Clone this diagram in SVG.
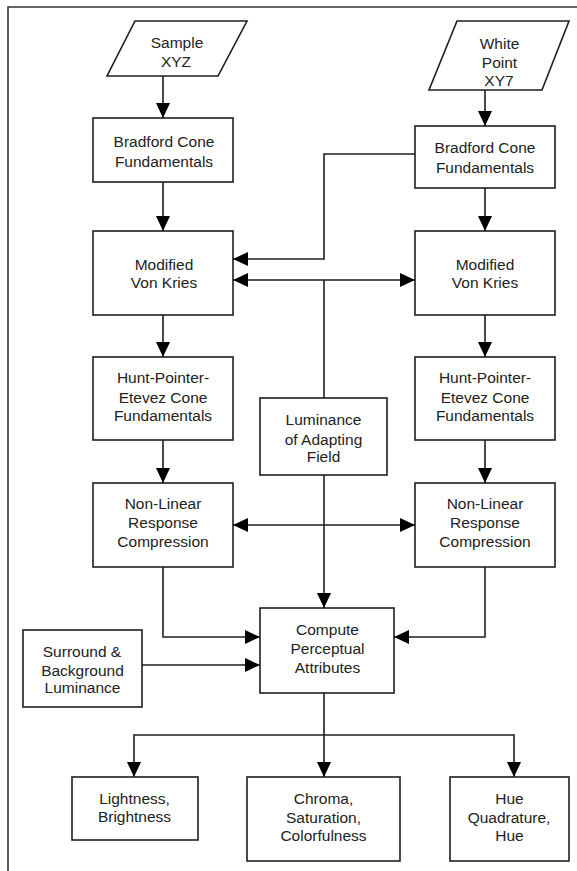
<svg xmlns="http://www.w3.org/2000/svg" width="577" height="871" viewBox="0 0 577 871">
<style>
.box{fill:#fff;stroke:#1e1e1e;stroke-width:1.6}
.ln{fill:none;stroke:#1e1e1e;stroke-width:1.6}
.frame{fill:none;stroke:#333;stroke-width:1.6}
text{font-family:"Liberation Sans",Arial,sans-serif;font-size:15.5px;fill:#222;text-anchor:middle}
</style>
<defs>
<marker id="ah" viewBox="0 0 15 14" refX="15" refY="7" markerWidth="15" markerHeight="14" markerUnits="userSpaceOnUse" orient="auto-start-reverse">
<path d="M0,0 L15,7 L0,14 Z" fill="#000"/>
</marker>
</defs>
<rect width="577" height="871" fill="#fff"/>
<path class="frame" d="M8,871 V7 H577"/>

<g id="connectors">
<path class="ln" d="M163,76 V118" marker-end="url(#ah)"/>
<path class="ln" d="M163,182 V231" marker-end="url(#ah)"/>
<path class="ln" d="M485,90 V126" marker-end="url(#ah)"/>
<path class="ln" d="M485,188 V231" marker-end="url(#ah)"/>
<path class="ln" d="M415,154 H324 V259 H233" marker-end="url(#ah)"/>
<path class="ln" d="M233,280 H415" marker-start="url(#ah)" marker-end="url(#ah)"/>
<path class="ln" d="M324,398 V280"/>
<path class="ln" d="M163,315 V357" marker-end="url(#ah)"/>
<path class="ln" d="M485,315 V357" marker-end="url(#ah)"/>
<path class="ln" d="M163,440 V483" marker-end="url(#ah)"/>
<path class="ln" d="M485,440 V483" marker-end="url(#ah)"/>
<path class="ln" d="M233,525 H415" marker-start="url(#ah)" marker-end="url(#ah)"/>
<path class="ln" d="M324,475 V608" marker-end="url(#ah)"/>
<path class="ln" d="M163,567 V637 H260" marker-end="url(#ah)"/>
<path class="ln" d="M485,567 V637 H394" marker-end="url(#ah)"/>
<path class="ln" d="M142,665 H260" marker-end="url(#ah)"/>
<path class="ln" d="M324,693 V777" marker-end="url(#ah)"/>
<path class="ln" d="M134,777 V735 H514 V777" marker-start="url(#ah)" marker-end="url(#ah)"/>
</g>

<g id="sample-xyz">
<polygon class="box" points="135,21 247,21 218,76 107,76"/>
<text x="177" y="48">Sample</text>
<text x="176" y="67">XYZ</text>
</g>
<g id="white-point">
<polygon class="box" points="457,21 569,21 542,90 429,90"/>
<text x="499.5" y="49">White</text>
<text x="499.5" y="68">Point</text>
<text x="499" y="86">XY7</text>
</g>
<g id="bradford-left">
<rect class="box" x="93" y="118" width="140" height="64"/>
<text x="164" y="147">Bradford Cone</text>
<text x="164" y="167">Fundamentals</text>
</g>
<g id="bradford-right">
<rect class="box" x="415" y="126" width="140" height="62"/>
<text x="485" y="153">Bradford Cone</text>
<text x="485" y="173">Fundamentals</text>
</g>
<g id="vonkries-left">
<rect class="box" x="93" y="231" width="140" height="84"/>
<text x="164" y="270">Modified</text>
<text x="164" y="288">Von Kries</text>
</g>
<g id="vonkries-right">
<rect class="box" x="415" y="231" width="140" height="84"/>
<text x="485" y="270">Modified</text>
<text x="485" y="288">Von Kries</text>
</g>
<g id="hpe-left">
<rect class="box" x="93" y="357" width="140" height="83"/>
<text x="163" y="383">Hunt-Pointer-</text>
<text x="163" y="403">Etevez Cone</text>
<text x="163" y="421">Fundamentals</text>
</g>
<g id="hpe-right">
<rect class="box" x="415" y="357" width="140" height="83"/>
<text x="485" y="383">Hunt-Pointer-</text>
<text x="485" y="403">Etevez Cone</text>
<text x="485" y="421">Fundamentals</text>
</g>
<g id="luminance-adapting">
<rect class="box" x="260" y="398" width="127" height="77"/>
<text x="323.5" y="425">Luminance</text>
<text x="323.5" y="445">of Adapting</text>
<text x="323.5" y="462">Field</text>
</g>
<g id="nonlinear-left">
<rect class="box" x="93" y="483" width="140" height="84"/>
<text x="163" y="509">Non-Linear</text>
<text x="163" y="528">Response</text>
<text x="163" y="547">Compression</text>
</g>
<g id="nonlinear-right">
<rect class="box" x="415" y="483" width="140" height="84"/>
<text x="485" y="509">Non-Linear</text>
<text x="485" y="528">Response</text>
<text x="485" y="547">Compression</text>
</g>
<g id="compute">
<rect class="box" x="260" y="608" width="134" height="85"/>
<text x="327.5" y="635">Compute</text>
<text x="327.5" y="654">Perceptual</text>
<text x="327.5" y="673">Attributes</text>
</g>
<g id="surround">
<rect class="box" x="23" y="630" width="119" height="77"/>
<text x="82" y="657">Surround &amp;</text>
<text x="82.5" y="676">Background</text>
<text x="82.5" y="693">Luminance</text>
</g>
<g id="lightness">
<rect class="box" x="72" y="777" width="126" height="63"/>
<text x="134.5" y="804">Lightness,</text>
<text x="134.5" y="822">Brightness</text>
</g>
<g id="chroma">
<rect class="box" x="247" y="777" width="153" height="84"/>
<text x="323.5" y="804">Chroma,</text>
<text x="323.5" y="823">Saturation,</text>
<text x="323.5" y="841">Colorfulness</text>
</g>
<g id="hue">
<rect class="box" x="450" y="777" width="119" height="84"/>
<text x="509.5" y="804">Hue</text>
<text x="509" y="823">Quadrature,</text>
<text x="509.5" y="841">Hue</text>
</g>
</svg>
